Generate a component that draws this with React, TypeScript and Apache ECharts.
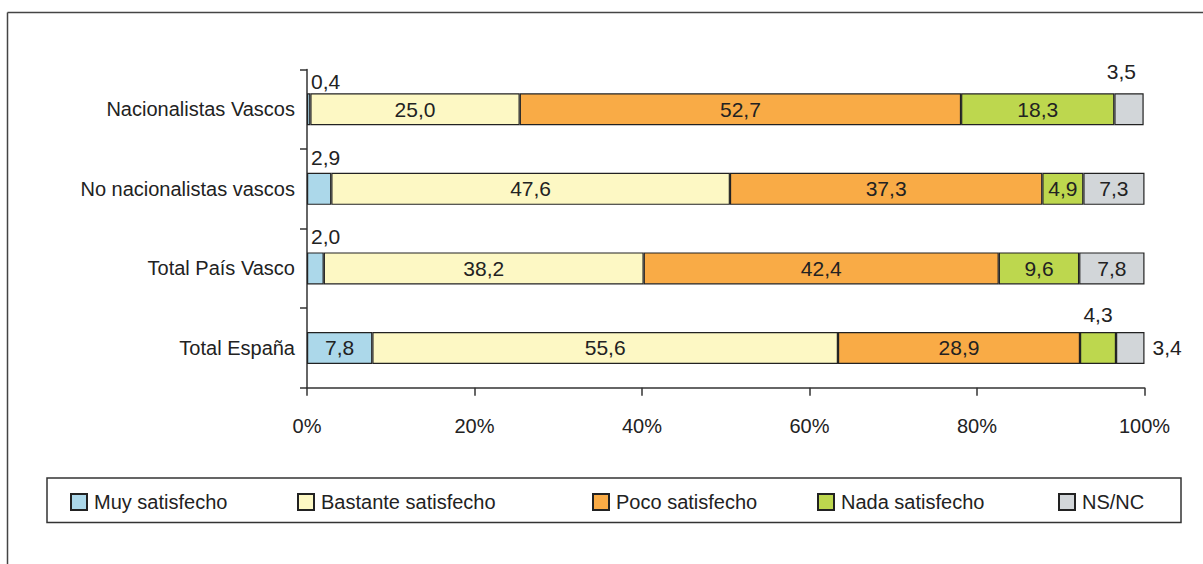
import React, { useEffect, useRef } from "react";
import * as echarts from "echarts";

const categories = ["Nacionalistas Vascos", "No nacionalistas vascos", "Total País Vasco", "Total España"];
const seriesNames = ["Muy satisfecho", "Bastante satisfecho", "Poco satisfecho", "Nada satisfecho", "NS/NC"];
const muy = [0.4, 2.9, 2.0, 7.8];
const bastante = [25.0, 47.6, 38.2, 55.6];
const poco = [52.7, 37.3, 42.4, 28.9];
const nada = [18.3, 4.9, 9.6, 4.3];
const nsnc = [3.5, 7.3, 7.8, 3.4];
const xTicks = [0, 20, 40, 60, 80, 100];

const colors = ["#acd8ea", "#fdf8c4", "#f9ab46", "#bdd74e", "#d2d6d9"];
const FONT = "'Liberation Sans', Arial, sans-serif";
const TXT = "#222";

// label placement overrides: [seriesIndex][categoryIndex]
const labelOverrides: Record<string, any> = {
  "0-0": { position: [4, -1], align: "left", verticalAlign: "bottom" },
  "0-1": { position: [4, -5], align: "left", verticalAlign: "bottom" },
  "0-2": { position: [4, -5], align: "left", verticalAlign: "bottom" },
  "4-0": { position: [7, -11], align: "center", verticalAlign: "bottom" },
  "3-3": { position: "top", distance: 7 },
  "4-3": { position: "right", distance: 8 },
};

const legendX = [70, 297, 592, 817, 1058];

export default function App() {
  const ref = useRef<HTMLDivElement>(null);
  useEffect(() => {
    if (!ref.current) return;
    const chart = echarts.init(ref.current, null, { renderer: "svg" });
    const values = [muy, bastante, poco, nada, nsnc];
    const fmt = (p: any) => Number(p.value).toFixed(1).replace(".", ",");
    const series = values.map((arr, si) => ({
      name: seriesNames[si],
      type: "bar",
      stack: "total",
      barWidth: 32,
      itemStyle: { color: colors[si], borderColor: "#222", borderWidth: 1.2 },
      label: {
        show: true,
        position: "inside",
        formatter: fmt,
        color: TXT,
        fontSize: 21,
        fontFamily: FONT,
      },
      emphasis: { disabled: true },
      data: arr.map((v, ci) => {
        const ov = labelOverrides[`${si}-${ci}`];
        return ov ? { value: v, label: ov } : { value: v };
      }),
    }));
    const legends = seriesNames.map((n, i) => ({
      data: [n],
      left: legendX[i],
      top: 492,
      padding: 0,
      itemWidth: 16,
      itemHeight: 16,
      icon: "rect",
      selectedMode: false,
      textStyle: { fontSize: 20, fontFamily: FONT, color: TXT, lineHeight: 16, padding: [0, 0, 0, 2] },
    }));
    chart.setOption({
      animation: false,
      backgroundColor: "#fff",
      grid: { left: 307, right: 58.5, top: 69.5, bottom: 176.3, containLabel: false },
      xAxis: {
        type: "value",
        min: xTicks[0],
        max: xTicks[xTicks.length - 1],
        interval: 20,
        axisLine: { show: true, lineStyle: { color: "#333", width: 1.5 } },
        axisTick: { show: true, length: 8, lineStyle: { color: "#333", width: 1.5 } },
        splitLine: { show: false },
        axisLabel: { formatter: "{value}%", color: TXT, fontSize: 20, fontFamily: FONT, margin: 28 },
      },
      yAxis: {
        type: "category",
        inverse: true,
        data: categories,
        axisLine: { show: true, lineStyle: { color: "#333", width: 1.5 } },
        axisTick: { show: true, length: 7, lineStyle: { color: "#333", width: 1.5 } },
        axisLabel: { color: TXT, fontSize: 20, fontFamily: FONT, margin: 12 },
      },
      legend: legends,
      graphic: [
        { type: "line", shape: { x1: 7.5, y1: 12.5, x2: 1203, y2: 12.5 }, style: { stroke: "#444", lineWidth: 1.5 } },
        { type: "line", shape: { x1: 7.5, y1: 12.5, x2: 7.5, y2: 564 }, style: { stroke: "#444", lineWidth: 1.5 } },
        { type: "rect", shape: { x: 47, y: 478, width: 1134, height: 44.5 }, style: { fill: "none", stroke: "#333", lineWidth: 1.5 } },
      ],
      series,
    });
    return () => chart.dispose();
  }, []);
  return <div ref={ref} style={{ position: "absolute", left: 0, top: 0, width: 1203, height: 564 }} />;
}
